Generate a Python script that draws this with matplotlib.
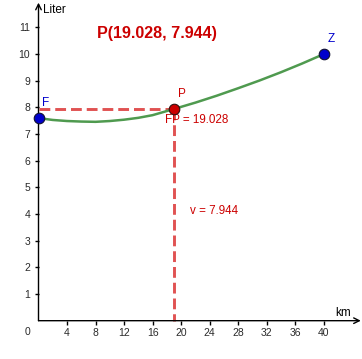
import numpy as np
import matplotlib
matplotlib.use("Agg")
import matplotlib.pyplot as plt

plt.rcParams['font.family'] = ['Liberation Sans', 'DejaVu Sans']

# curve (km, liter)
km = [0, 2, 4, 6, 8, 10, 12, 14, 16, 19.028, 22, 25, 28, 31, 34, 37, 40]
liter = [7.60, 7.53, 7.49, 7.47, 7.46, 7.49, 7.54, 7.61, 7.71, 7.944,
         8.18, 8.44, 8.72, 9.01, 9.32, 9.65, 10.0]

# named points
F = (0, 7.6)
Z = (40, 10.0)
P = (19.028, 7.944)

x_ticks = list(range(4, 44, 4))
y_ticks = list(range(1, 12))

red = '#cc0000'
dash_red = '#e05252'
blue = '#0000cc'
green = '#4f9a4f'

fig = plt.figure(figsize=(3.62, 3.59), dpi=100)
ax = fig.add_axes([0, 0, 1, 1])
ax.set_xlim(-5.40, 45.37)
ax.set_ylim(-1.437, 12.03)

# axes through origin
for s in ['top', 'right']:
    ax.spines[s].set_visible(False)
ax.spines['left'].set_position(('data', 0))
ax.spines['bottom'].set_position(('data', 0))
ax.spines['left'].set_color('none')
ax.spines['bottom'].set_color('none')
ax.annotate('', xy=(45.2, 0), xytext=(0, 0),
            arrowprops=dict(arrowstyle='->', color='black', lw=1.0,
                            shrinkA=0, shrinkB=0))
ax.annotate('', xy=(0, 11.93), xytext=(0, 0),
            arrowprops=dict(arrowstyle='->', color='black', lw=1.0,
                            shrinkA=0, shrinkB=0))

ax.set_xticks(x_ticks)
ax.set_yticks(y_ticks)
ax.tick_params(axis='both', direction='out', length=3, width=1,
               labelsize=7.5, labelcolor='#2a2a2a')
ax.tick_params(axis='x', pad=2.2)
ax.tick_params(axis='y', pad=3)
ax.text(-1.15, -0.43, '0', fontsize=7.5, color='#2a2a2a', ha='right',
        va='center')

ax.text(0.65, 11.65, 'Liter', fontsize=8.5, ha='left', va='center')
ax.text(41.6, 0.3, 'km', fontsize=8.5, ha='left', va='center')

# dashed guides to P
ax.plot([0, P[0]], [P[1], P[1]], color=dash_red, lw=2.1, dashes=(3.7, 1.7),
        zorder=2)
ax.plot([P[0], P[0]], [P[1], 0], color=dash_red, lw=2.1, dashes=(3.7, 1.7),
        zorder=2)

# curve
ax.plot(km, liter, color=green, lw=1.8, solid_capstyle='round', zorder=3)

# points
ax.plot(*F, 'o', ms=7.6, mfc=blue, mec='#101030', mew=0.8, zorder=5)
ax.plot(*Z, 'o', ms=7.6, mfc=blue, mec='#101030', mew=0.8, zorder=5)
ax.plot(*P, 'o', ms=7.6, mfc=red, mec='#301010', mew=0.8, zorder=5)

ax.text(0.55, 8.15, 'F', color=blue, fontsize=8.5, ha='left', va='center')
ax.text(40.55, 10.55, 'Z', color=blue, fontsize=8.5, ha='left', va='center')
ax.text(19.6, 8.5, 'P', color=red, fontsize=8.5, ha='left', va='center')
ax.text(17.8, 7.51, 'FP = 19.028', color=red, fontsize=8.4, ha='left',
        va='center')
ax.text(21.25, 4.11, 'v = 7.944', color=red, fontsize=8.4, ha='left',
        va='center')
ax.text(8.2, 10.78, 'P(19.028, 7.944)', color=red, fontsize=11.6,
        fontweight='bold', ha='left', va='center')

fig.savefig('out.png', dpi=100)
